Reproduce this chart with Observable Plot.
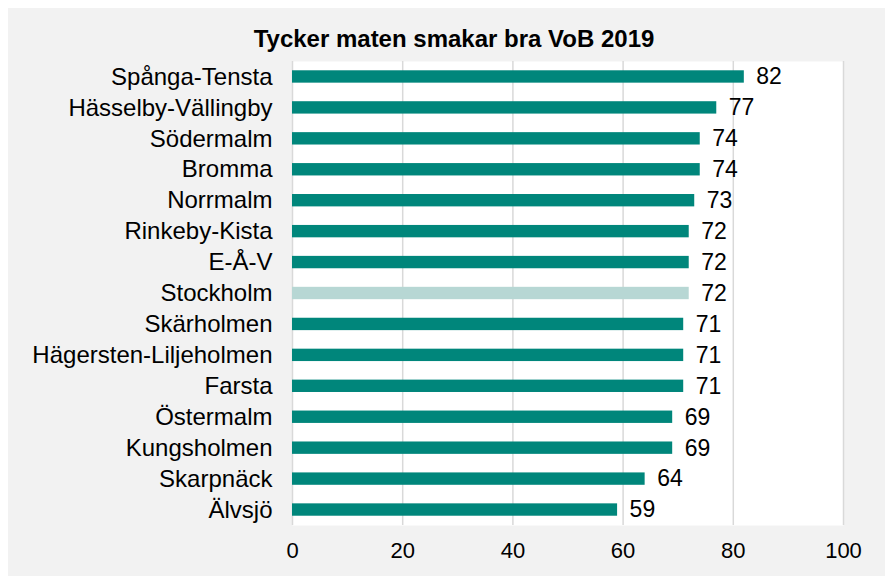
<!DOCTYPE html>
<html>
<head>
<meta charset="utf-8">
<script src="https://cdn.jsdelivr.net/npm/d3@7"></script>
<script src="https://cdn.jsdelivr.net/npm/@observablehq/plot@0.6"></script>
<style>
  html, body { margin: 0; padding: 0; background: #ffffff; width: 885px; height: 576px; overflow: hidden; }
  #wrap { position: absolute; left: 8px; top: 8px; width: 877px; height: 568px; background: #f2f2f2; }
  #title { position: absolute; left: 446px; top: 17px; transform: translateX(-50%); white-space: nowrap;
           font-family: "Liberation Sans", Arial, sans-serif; font-weight: bold; font-size: 24px; color: #000; line-height: 1.15; }
  #chart { position: absolute; left: 0; top: 0; }
</style>
</head>
<body>
<div id="wrap">
  <div id="title">Tycker maten smakar bra VoB 2019</div>
  <div id="chart"></div>
</div>
<script>
const categories = ["Spånga-Tensta","Hässelby-Vällingby","Södermalm","Bromma","Norrmalm","Rinkeby-Kista","E-Å-V","Stockholm","Skärholmen","Hägersten-Liljeholmen","Farsta","Östermalm","Kungsholmen","Skarpnäck","Älvsjö"];
const values = [82,77,74,74,73,72,72,72,71,71,71,69,69,64,59];
const highlight = "Stockholm";
const xTicks = [0,20,40,60,80,100];

const data = categories.map((c, i) => ({category: c, value: values[i], hl: c === highlight}));

const chart = Plot.plot({
  width: 877,
  height: 568,
  marginLeft: 284,
  marginRight: 42,
  marginTop: 53,
  marginBottom: 51,
  style: {fontFamily: "'Liberation Sans', Arial, sans-serif", fontSize: "24px", color: "#000", background: "transparent"},
  x: {domain: [0, 100], ticks: xTicks, label: null},
  y: {domain: categories, label: null, paddingInner: 0.6, paddingOuter: 0.3, align: 0.5, round: false},
  marks: [
    Plot.frame({fill: "#ffffff", stroke: null}),
    Plot.ruleX(xTicks, {stroke: "#d9d9d9", strokeWidth: 1.5}),
    Plot.barX(data, {x: "value", y: "category", fill: d => d.hl ? "#b7d7d4" : "#00867b"}),
    Plot.text(data, {x: "value", y: "category", text: d => String(d.value), textAnchor: "start", dx: 12, fontSize: 23, fill: "#000"}),
    Plot.axisY({tickSize: 0, tickPadding: 20, fontSize: 24, fill: "#000"}),
    Plot.axisX({tickSize: 0, tickPadding: 17, fontSize: 22, fill: "#000", ticks: xTicks})
  ]
});
document.getElementById("chart").appendChild(chart);
</script>
</body>
</html>
